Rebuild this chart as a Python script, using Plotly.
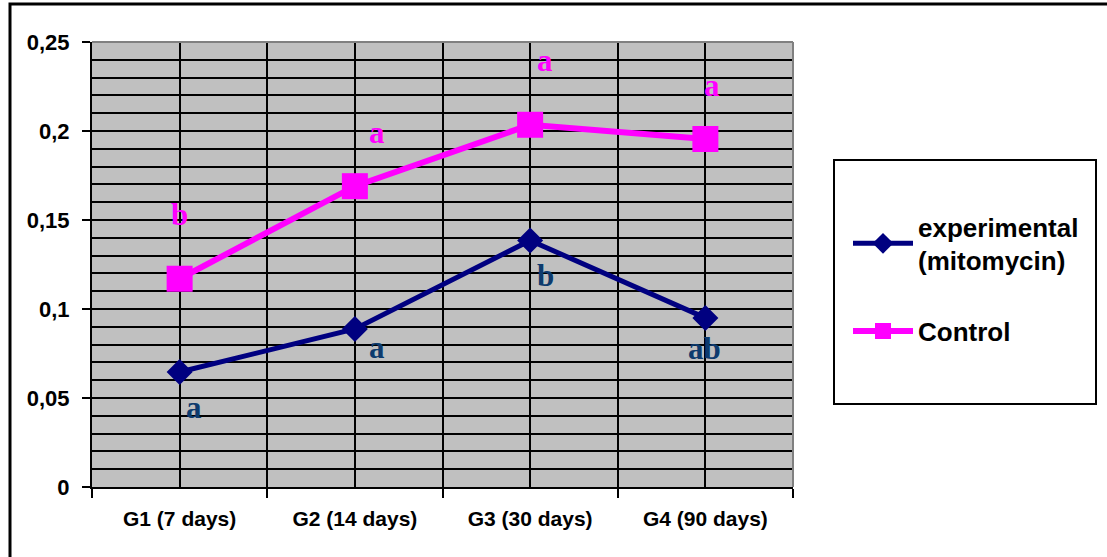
import plotly.graph_objects as go

categories = ["G1 (7 days)", "G2 (14 days)", "G3 (30 days)", "G4 (90 days)"]
experimental = [0.0646, 0.0888, 0.1385, 0.0950]
control = [0.1170, 0.1690, 0.2035, 0.1955]
exp_letters = ["a", "a", "b", "ab"]
ctrl_letters = ["b", "a", "a", "a"]
# pixel offsets of the letters from their points (styling)
exp_offsets = [(14, -35), (22, -19), (15, -35), (-1, -31)]
ctrl_offsets = [(0, 64), (22, 54), (15, 64), (7, 54)]

xpos = list(range(len(categories)))

W, H = 1107, 557
L, R, T, B = 92, 793, 42, 487

fig = go.Figure()
fig.add_trace(go.Scatter(
    x=xpos, y=experimental, name="experimental<br>(mitomycin)",
    mode="lines+markers", legendgroup="e",
    line=dict(color="#000080", width=5),
    marker=dict(symbol="diamond", size=20, color="#000080"),
))
fig.add_trace(go.Scatter(
    x=xpos, y=control, name="Control",
    mode="lines+markers", legendgroup="c",
    line=dict(color="#FF00FF", width=6),
    marker=dict(symbol="square", size=26, color="#FF00FF"),
))

serif = "Liberation Serif, Times New Roman, serif"
for i, (lt, (dx, dy)) in enumerate(zip(ctrl_letters, ctrl_offsets)):
    fig.add_annotation(x=xpos[i], y=control[i], text=lt, showarrow=False,
                       xshift=dx, yshift=dy,
                       font=dict(family=serif, size=31, color="#FF00FF", weight="bold"))
for i, (lt, (dx, dy)) in enumerate(zip(exp_letters, exp_offsets)):
    fig.add_annotation(x=xpos[i], y=experimental[i], text=lt, showarrow=False,
                       xshift=dx, yshift=dy,
                       font=dict(family=serif, size=31, color="#0D3B6E", weight="bold"))

def px_x(p):
    return (p - L) / (R - L)

def px_y(p):
    return (B - p) / (B - T)

shapes = [
    # outer chart border (extends past the window)
    dict(type="rect", xref="paper", yref="paper",
         x0=px_x(10), x1=px_x(1112), y0=px_y(4), y1=px_y(565),
         line=dict(color="black", width=3), layer="below"),
    # plot area top/right border (gray)
    dict(type="line", xref="paper", yref="paper", x0=0, x1=1, y0=1, y1=1,
         line=dict(color="#808080", width=2)),
    dict(type="line", xref="paper", yref="paper", x0=1, x1=1, y0=0, y1=1,
         line=dict(color="#808080", width=2)),
    # legend box
    dict(type="rect", xref="paper", yref="paper",
         x0=px_x(834), x1=px_x(1096), y0=px_y(160), y1=px_y(404),
         line=dict(color="black", width=2), fillcolor="white", layer="below"),
]

sans = "Liberation Sans, Arial, sans-serif"
fig.update_layout(
    width=W, height=H,
    margin=dict(l=L, r=W - R, t=T, b=H - B, autoexpand=False),
    paper_bgcolor="white", plot_bgcolor="#C0C0C0",
    separators=", ",
    shapes=shapes,
    showlegend=True,
    legend=dict(x=px_x(848), y=px_y(203), xanchor="left", yanchor="top",
                bgcolor="rgba(0,0,0,0)", borderwidth=0,
                font=dict(family=sans, size=26, color="black", weight="bold"),
                itemwidth=60, traceorder="grouped", tracegroupgap=34),
    xaxis=dict(range=[-0.5, 3.5], tickvals=xpos, ticktext=categories,
               ticks="", showgrid=True, gridcolor="black", gridwidth=2,
               showline=True, linecolor="black", linewidth=2, zeroline=False,
               tickfont=dict(family=sans, size=21, color="black", weight="bold"),
               ticklabelstandoff=12,
               minor=dict(tickvals=[-0.5, 0.5, 1.5, 2.5, 3.5], ticks="outside",
                          ticklen=9, tickwidth=2, tickcolor="black",
                          showgrid=True, gridcolor="black", gridwidth=2)),
    yaxis=dict(range=[0, 0.25], dtick=0.05, tick0=0,
               ticks="outside", ticklen=8, tickwidth=2, tickcolor="black",
               showgrid=True, gridcolor="black", gridwidth=2,
               showline=True, linecolor="black", linewidth=2, zeroline=False,
               tickfont=dict(family=sans, size=22, color="black", weight="bold"),
               ticklabelstandoff=8,
               minor=dict(dtick=0.01, tick0=0, ticks="", showgrid=True,
                          gridcolor="black", gridwidth=2)),
)

fig.write_html("out.html", config={"displayModeBar": False},
               post_script="document.body.style.margin='0';")
